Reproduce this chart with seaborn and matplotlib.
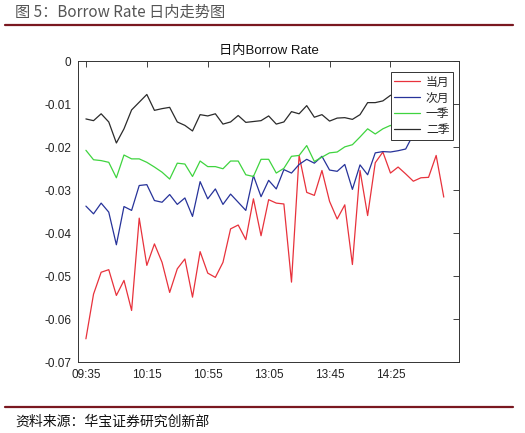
import numpy as np
import pandas as pd
import matplotlib
matplotlib.use("Agg")
import matplotlib.pyplot as plt
import seaborn as sns
from matplotlib.lines import Line2D

# ---- data (values in units of 0.01) ----
tick_labels = ["09:35", "10:15", "10:55", "13:05", "13:45", "14:25"]
tick_index = [1, 9, 17, 25, 33, 41]
series_names = ["当月", "次月", "一季", "二季"]

dangyue = [-6.46, -5.42, -4.91, -4.85, -5.45, -5.10, -5.80, -3.65, -4.75, -4.25,
           -4.68, -5.38, -4.83, -4.60, -5.49, -4.43, -4.93, -5.03, -4.68, -3.90,
           -3.81, -4.15, -3.20, -4.06, -3.22, -3.30, -3.32, -5.14, -2.19, -3.05,
           -3.12, -2.54, -3.26, -3.67, -3.34, -4.73, -2.54, -3.59, -2.36, -2.11,
           -2.60, -2.46, -2.62, -2.79, -2.71, -2.70, -2.19, -3.16]
ciyue = [-3.37, -3.55, -3.30, -3.51, -4.27, -3.38, -3.47, -2.89, -2.87, -3.24,
         -3.28, -3.10, -3.33, -3.18, -3.61, -2.80, -3.20, -2.97, -3.33, -3.09,
         -3.28, -3.47, -2.66, -3.15, -2.77, -2.97, -2.52, -2.60, -2.40, -2.28,
         -2.37, -2.21, -2.53, -2.56, -2.40, -2.98, -2.41, -2.64, -2.13, -2.10,
         -2.11, -2.08, -2.04, -1.70, -1.75, -1.70, -1.62, -1.66]
yiji = [-2.07, -2.29, -2.31, -2.35, -2.71, -2.18, -2.27, -2.27, -2.35, -2.46,
        -2.58, -2.74, -2.37, -2.39, -2.68, -2.32, -2.45, -2.45, -2.50, -2.32,
        -2.32, -2.64, -2.68, -2.28, -2.28, -2.60, -2.49, -2.21, -2.19, -1.96,
        -2.33, -2.23, -2.13, -2.11, -1.99, -1.94, -1.76, -1.57, -1.69, -1.57,
        -1.49, -1.60, -1.69, -1.62, -1.60, -1.62, -1.58, -1.60]
erji = [-1.34, -1.38, -1.22, -1.41, -1.90, -1.57, -1.13, -0.95, -0.77, -1.14,
        -1.10, -1.07, -1.41, -1.49, -1.62, -1.24, -1.27, -1.22, -1.46, -1.41,
        -1.26, -1.42, -1.40, -1.38, -1.27, -1.46, -1.41, -1.17, -1.22, -1.03,
        -1.30, -1.24, -1.39, -1.32, -1.31, -1.35, -1.24, -0.96, -0.96, -0.92,
        -0.79, -0.80, -0.75, -0.78, -0.72, -0.70, -0.74, -0.68]

colors = ["#e8323c", "#27339a", "#3fd43f", "#2b2b2b"]

# ---- long-form table ----
frames = []
for name, vals in zip(series_names, [dangyue, ciyue, yiji, erji]):
    v = np.array(vals) / 100.0
    frames.append(pd.DataFrame({"idx": np.arange(1, len(v) + 1), "value": v, "series": name}))
df = pd.concat(frames, ignore_index=True)

sns.set_style("white")
plt.rcParams["font.family"] = ["Liberation Sans", "Noto Sans CJK SC", "DejaVu Sans"]

fig = plt.figure(figsize=(5.25, 4.33), dpi=100)
ax = fig.add_axes([78.3 / 525, 1 - 362 / 433, (459 - 78.3) / 525, (362 - 61.4) / 433])

sns.lineplot(data=df, x="idx", y="value", hue="series", hue_order=series_names,
             palette=colors, linewidth=0.9, ax=ax, legend=False)

ax.set_xlim(0, 50)
ax.set_ylim(-0.07, 0)
ax.set_xticks(tick_index)
ax.set_xticklabels(tick_labels)
ax.set_yticks(np.arange(-0.07, 0.0001, 0.01))
ax.set_yticklabels(["-0.07", "-0.06", "-0.05", "-0.04", "-0.03", "-0.02", "-0.01", "0"])
ax.set_xlabel("")
ax.set_ylabel("")
ax.tick_params(direction="in", length=4, width=0.6, top=True, right=True,
               labelsize=8.5, colors="#222222", pad=5)
for s in ax.spines.values():
    s.set_linewidth(0.7)
    s.set_color("#333333")

ax.set_title("日内Borrow Rate", fontsize=9.5, pad=5,
             family=["Liberation Sans", "Noto Sans CJK SC"], color="#111111")

handles = [Line2D([0], [0], color=c, lw=0.9) for c in colors]
leg = ax.legend(handles, series_names, loc="upper right",
                bbox_to_anchor=((453 - 78.3) / 380.7, 1 - (72 - 61.4) / 300.6),
                prop={"family": ["Noto Sans CJK SC", "DejaVu Sans"], "size": 8.5},
                frameon=True, fancybox=False, framealpha=1.0, handlelength=2.2,
                handletextpad=0.5, borderpad=0.3, labelspacing=0.25, borderaxespad=0.0)
leg.get_frame().set_edgecolor("#333333")
leg.get_frame().set_linewidth(0.7)
leg.get_frame().set_facecolor("white")

# ---- header / footer decoration ----
fig.text(15 / 525, 1 - 12 / 433, "图 5：Borrow Rate 日内走势图", fontsize=11,
         family=["Noto Sans CJK SC", "DejaVu Sans"], color="#555555", va="center", ha="left")
fig.add_artist(Line2D([5 / 525, 513 / 525], [1 - 25 / 433, 1 - 25 / 433],
                      color="#7a1820", lw=1.6, transform=fig.transFigure))
fig.add_artist(Line2D([5 / 525, 513 / 525], [1 - 407 / 433, 1 - 407 / 433],
                      color="#7a1820", lw=1.6, transform=fig.transFigure))
fig.text(15 / 525, 1 - 422 / 433, "资料来源：华宝证券研究创新部", fontsize=10,
         family=["Noto Sans CJK SC", "DejaVu Sans"], color="#111111", va="center", ha="left")

fig.savefig("out.png", dpi=100)
